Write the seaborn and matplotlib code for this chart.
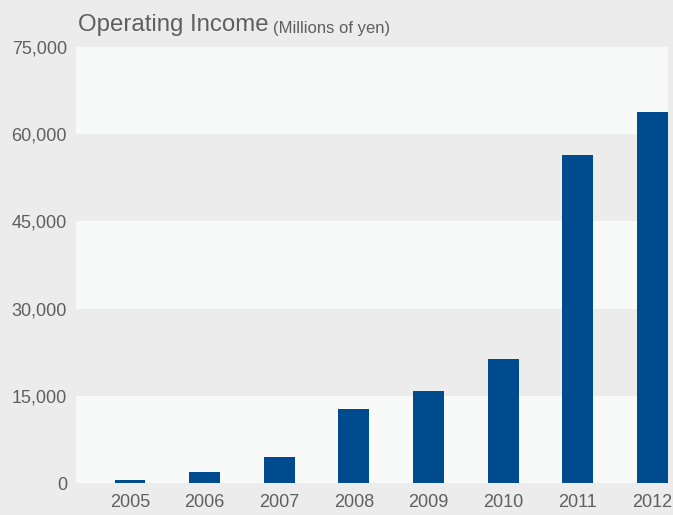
import matplotlib
matplotlib.use("Agg")
import matplotlib.pyplot as plt
import seaborn as sns
import pandas as pd

# Operating income by fiscal year (millions of yen)
years = ["2005", "2006", "2007", "2008", "2009", "2010", "2011", "2012"]
income = [520, 1900, 4480, 12750, 15850, 21380, 56380, 63800]
y_ticks = [0, 15000, 30000, 45000, 60000, 75000]
y_tick_labels = ["0", "15,000", "30,000", "45,000", "60,000", "75,000"]

BG = "#ececec"
BAND = "#f8faf9"
BAR = "#004b8d"
TEXT = "#5f5f5f"

sns.set_theme(style="white")
plt.rcParams["font.family"] = ["Liberation Sans", "DejaVu Sans"]

df = pd.DataFrame({"year": years, "income": income})

fig = plt.figure(figsize=(6.73, 5.15), dpi=100, facecolor=BG)
ax = fig.add_axes([0.1129, 0.0621, 0.8797, 0.8466])
ax.set_facecolor(BG)

# alternating horizontal bands
for i in range(len(y_ticks) - 1):
    if i % 2 == 0:
        ax.axhspan(y_ticks[i], y_ticks[i + 1], color=BAND, lw=0, zorder=0)

sns.barplot(data=df, x="year", y="income", color=BAR, saturation=1,
            width=0.415, linewidth=0, edgecolor="none", ax=ax, zorder=2)

ax.set_xlim(-0.724, 7.21)
ax.set_ylim(0, 75000)
ax.set_yticks(y_ticks)
ax.set_yticklabels(y_tick_labels)
ax.set_xlabel("")
ax.set_ylabel("")
for s in ax.spines.values():
    s.set_visible(False)
ax.tick_params(axis="both", length=0, labelsize=13, colors=TEXT)
ax.tick_params(axis="y", pad=6.5)
ax.tick_params(axis="x", pad=8)

t1 = fig.text(78 / 673, 1 - 31 / 515, "Operating Income", fontsize=17.3,
              color=TEXT, va="baseline", ha="left")
ax.annotate("(Millions of yen)", xy=(1, 0), xycoords=t1, xytext=(3, 0),
            textcoords="offset points", fontsize=12, color=TEXT,
            va="bottom", ha="left", annotation_clip=False)

fig.savefig("out.png", dpi=100, facecolor=BG)
